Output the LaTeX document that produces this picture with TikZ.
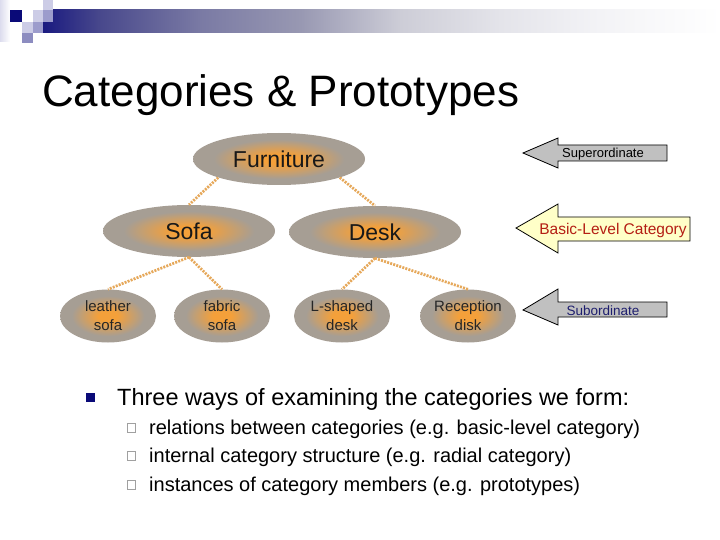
\documentclass[tikz,border=0pt]{standalone}
\usepackage{fontspec}
\setmainfont{Liberation Sans}
\usetikzlibrary{shapes.geometric}
\definecolor{orng}{RGB}{244,160,58}
\definecolor{gry}{RGB}{166,158,148}
\definecolor{lnk}{RGB}{230,168,90}
\definecolor{navy}{RGB}{26,26,128}
\definecolor{deepnavy}{RGB}{10,10,120}
\definecolor{lav1}{RGB}{204,204,230}
\definecolor{lav2}{RGB}{156,156,204}
\definecolor{lav3}{RGB}{140,140,192}
\definecolor{lav0}{RGB}{220,220,238}
\definecolor{arrgray}{RGB}{192,192,192}
\definecolor{arryel}{RGB}{255,255,200}
\definecolor{basred}{RGB}{180,30,20}
\definecolor{subnavy}{RGB}{30,30,110}
\definecolor{hollow}{RGB}{160,160,160}
\definecolor{hb0}{RGB}{26,26,128}
\definecolor{hb1}{RGB}{72,72,140}
\definecolor{hb2}{RGB}{122,122,164}
\definecolor{hb3}{RGB}{152,152,178}
\definecolor{hb4}{RGB}{205,205,215}
\definecolor{hb5}{RGB}{228,228,234}
\definecolor{hb6}{RGB}{243,243,246}
\pgfdeclareradialshading{orb}{\pgfpoint{0bp}{0bp}}{color(0bp)=(orng); color(5bp)=(orng); color(19bp)=(gry); color(25bp)=(gry); color(50bp)=(gry)}
\pgfdeclarehorizontalshading{hbar}{100bp}{color(0bp)=(hb0); color(25bp)=(hb0); color(29.2bp)=(hb1); color(36.6bp)=(hb2); color(44bp)=(hb3); color(51.4bp)=(hb4); color(58.8bp)=(hb5); color(66.1bp)=(hb6); color(75bp)=(white); color(100bp)=(white)}
\begin{document}
\begin{tikzpicture}[x=1pt,y=-1pt,
  cat/.style={ellipse, shading=orb, inner sep=0pt, minimum width=172, minimum height=52, font=\fontsize{23}{26}\selectfont, text=black!90},
  leaf/.style={ellipse, shading=orb, inner sep=0pt, minimum width=96, minimum height=53, align=center, font=\fontsize{15}{19}\selectfont, text=black!85},
  link/.style={draw=lnk, line width=2.7, dash pattern=on 2pt off 1.2pt},
  blockarrow/.style={draw=black, line width=0.8},
  hbox/.style={draw=hollow, line width=0.8},
]
\useasboundingbox (0,0) rectangle (720,540);
\fill[white] (0,0) rectangle (720,540);
% header decoration
\shade[left color=lav0, right color=white] (0,0) rectangle (10,42);
\shade[shading=hbar] (43,10) rectangle (720,33);
\fill[lav1] (43,0) rectangle (53,10);
\fill[deepnavy] (10,10) rectangle (22,22);
\fill[lav1] (33,10) rectangle (43,22);
\fill[lav2] (43,10) rectangle (53,22);
\fill[lav1] (22,22) rectangle (33,33);
\fill[lav2] (33,22) rectangle (43,33);
\fill[lav3] (22,33) rectangle (33,43);
% title
\node[anchor=base west, inner sep=0pt, font=\fontsize{44}{50}\selectfont] (title) at (42,107) {Categories \& Prototypes};
% category nodes
\node[cat] (F) at (279,159) {Furniture};
\node[cat] (S) at (189,231) {Sofa};
\node[cat] (D) at (375,232) {Desk};
\node[leaf] (l1) at (108,316) {leather\\sofa};
\node[leaf] (l2) at (222,316) {fabric\\sofa};
\node[leaf] (l3) at (342,316) {L-shaped\\desk};
\node[leaf] (l4) at (468,316) {Reception\\disk};
% connectors
\draw[link] (F.197) -- (S.north);
\draw[link] (F.343) -- (D.north);
\draw[link] (S.south) -- (l1.north);
\draw[link] (S.south) -- (l2.north);
\draw[link] (D.south) -- (l3.north);
\draw[link] (D.south) -- (l4.north);
% level arrows
\draw[blockarrow, fill=arrgray] (523,153) -- (558,138) -- (558,145) -- (667,145) -- (667,161) -- (558,161) -- (558,168) -- cycle;
\node[anchor=base, inner sep=0pt, font=\fontsize{13}{15}\selectfont] (sup) at (603,158) {Superordinate};
\draw[blockarrow, fill=arryel] (516,228) -- (558,204) -- (558,217) -- (690,217) -- (690,241) -- (558,241) -- (558,253) -- cycle;
\node[anchor=base, inner sep=0pt, text=basred, font=\fontsize{15.5}{18}\selectfont] (bas) at (613,235) {Basic-Level Category};
\draw[blockarrow, fill=arrgray] (523,310) -- (558,289) -- (558,302) -- (667,302) -- (667,317) -- (558,317) -- (558,325) -- cycle;
\node[anchor=base, inner sep=0pt, text=subnavy, font=\fontsize{13.5}{15}\selectfont] (sub) at (603,315) {Subordinate};
% bullets
\fill[deepnavy] (86,393) rectangle (95,402);
\node[anchor=base west, inner sep=0pt, font=\fontsize{23.5}{27}\selectfont] (b0) at (117,405) {Three ways of examining the categories we form:};
\draw[hbox] (127,423.5) rectangle (135.5,432);
\draw[hbox] (127,451.5) rectangle (135.5,460);
\draw[hbox] (127,480.5) rectangle (135.5,489);
\node[anchor=base west, inner sep=0pt, font=\fontsize{20}{24}\selectfont] (b1) at (149,434) {relations between categories (e.g. basic-level category)};
\node[anchor=base west, inner sep=0pt, font=\fontsize{20}{24}\selectfont] (b2) at (149,462) {internal category structure (e.g. radial category)};
\node[anchor=base west, inner sep=0pt, font=\fontsize{20}{24}\selectfont] (b3) at (149,491) {instances of category members (e.g. prototypes)};
\end{tikzpicture}
\end{document}
